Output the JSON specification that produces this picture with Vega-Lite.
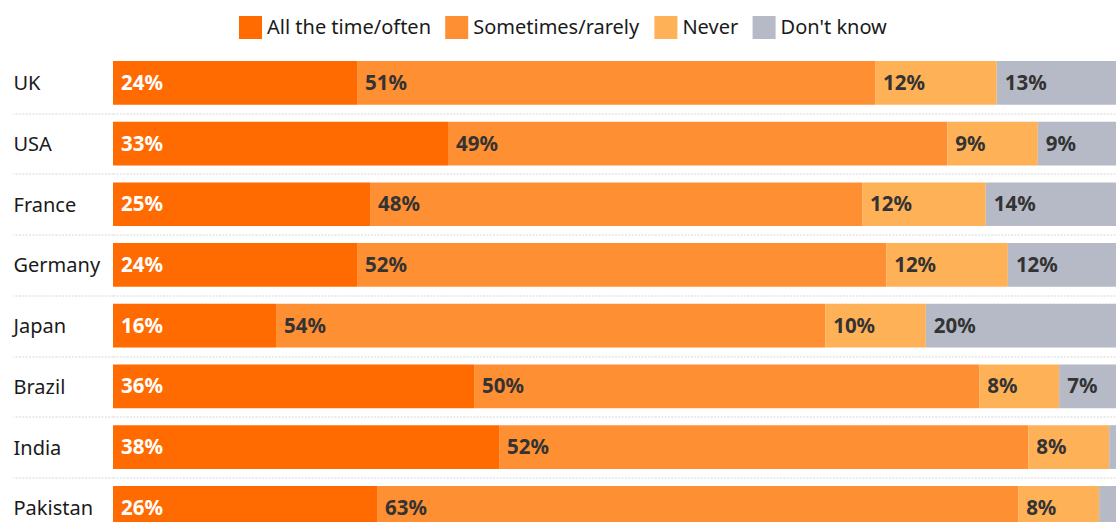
{
  "$schema": "https://vega.github.io/schema/vega-lite/v6.json",
  "width": 1003,
  "height": 470,
  "autosize": {"type": "none"},
  "padding": {"left": 113, "top": 52.5, "right": 0, "bottom": 0},
  "background": "#ffffff",
  "config": {
    "view": {"stroke": null},
    "font": "Noto Sans",
    "legend": {
      "orient": "none",
      "legendX": 126,
      "legendY": -36.5,
      "direction": "horizontal",
      "title": null,
      "symbolType": "square",
      "symbolSize": 529,
      "symbolStrokeWidth": 0,
      "symbolOpacity": 1,
      "labelFontSize": 20,
      "labelFont": "Noto Sans",
      "labelColor": "#1a1a1a",
      "labelOffset": 5,
      "columnPadding": 14.2,
      "padding": 0,
      "labelLimit": 0
    }
  },
  "data": {
    "values": [
      {"country": "UK", "category": "All the time/often", "k": 1, "value": 0.2404},
      {"country": "UK", "category": "Sometimes/rarely", "k": 2, "value": 0.5103},
      {"country": "UK", "category": "Never", "k": 3, "value": 0.1198},
      {"country": "UK", "category": "Don't know", "k": 4, "value": 0.1295},
      {"country": "USA", "category": "All the time/often", "k": 1, "value": 0.3300},
      {"country": "USA", "category": "Sometimes/rarely", "k": 2, "value": 0.4917},
      {"country": "USA", "category": "Never", "k": 3, "value": 0.0893},
      {"country": "USA", "category": "Don't know", "k": 4, "value": 0.0890},
      {"country": "France", "category": "All the time/often", "k": 1, "value": 0.2532},
      {"country": "France", "category": "Sometimes/rarely", "k": 2, "value": 0.4847},
      {"country": "France", "category": "Never", "k": 3, "value": 0.1218},
      {"country": "France", "category": "Don't know", "k": 4, "value": 0.1403},
      {"country": "Germany", "category": "All the time/often", "k": 1, "value": 0.2404},
      {"country": "Germany", "category": "Sometimes/rarely", "k": 2, "value": 0.5212},
      {"country": "Germany", "category": "Never", "k": 3, "value": 0.1199},
      {"country": "Germany", "category": "Don't know", "k": 4, "value": 0.1185},
      {"country": "Japan", "category": "All the time/often", "k": 1, "value": 0.1606},
      {"country": "Japan", "category": "Sometimes/rarely", "k": 2, "value": 0.5409},
      {"country": "Japan", "category": "Never", "k": 3, "value": 0.0992},
      {"country": "Japan", "category": "Don't know", "k": 4, "value": 0.1993},
      {"country": "Brazil", "category": "All the time/often", "k": 1, "value": 0.3557},
      {"country": "Brazil", "category": "Sometimes/rarely", "k": 2, "value": 0.4975},
      {"country": "Brazil", "category": "Never", "k": 3, "value": 0.0788},
      {"country": "Brazil", "category": "Don't know", "k": 4, "value": 0.0680},
      {"country": "India", "category": "All the time/often", "k": 1, "value": 0.3803},
      {"country": "India", "category": "Sometimes/rarely", "k": 2, "value": 0.5212},
      {"country": "India", "category": "Never", "k": 3, "value": 0.0798},
      {"country": "India", "category": "Don't know", "k": 4, "value": 0.0187},
      {"country": "Pakistan", "category": "All the time/often", "k": 1, "value": 0.2601},
      {"country": "Pakistan", "category": "Sometimes/rarely", "k": 2, "value": 0.6315},
      {"country": "Pakistan", "category": "Never", "k": 3, "value": 0.0798},
      {"country": "Pakistan", "category": "Don't know", "k": 4, "value": 0.0286}
    ]
  },
  "transform": [
    {"stack": "value", "groupby": ["country"], "sort": [{"field": "k", "order": "ascending"}], "as": ["x0", "x1"]}
  ],
  "encoding": {
    "y": {
      "field": "country",
      "type": "nominal",
      "sort": ["UK", "USA", "France", "Germany", "Japan", "Brazil", "India", "Pakistan"],
      "scale": {"range": [0, 485.6], "paddingInner": 0, "paddingOuter": 0},
      "axis": {
        "title": null,
        "domain": false,
        "tickBand": "extent",
        "ticks": true,
        "tickSize": 100,
        "tickColor": "#d6d6d6",
        "tickWidth": 1,
        "tickDash": [2, 1.3],
        "tickOpacity": {"condition": {"test": "datum.extra", "value": 0}, "value": 1},
        "grid": true,
        "gridColor": "#d6d6d6",
        "gridWidth": 1,
        "gridDash": [2, 1.3],
        "gridOpacity": {"condition": {"test": "datum.extra", "value": 0}, "value": 1},
        "labelAlign": "left",
        "labelBaseline": "middle",
        "labelPadding": 0,
        "labelOffset": 1,
        "labelFont": "Noto Sans",
        "labelFontSize": 20,
        "labelColor": "#1a1a1a",
        "labelLimit": 0
      }
    }
  },
  "layer": [
    {
      "mark": {"type": "bar", "height": {"band": 0.72}, "clip": true},
      "encoding": {
        "x": {"field": "x0", "type": "quantitative", "scale": {"domain": [0, 0.988], "nice": false, "zero": true}, "axis": null},
        "x2": {"field": "x1"},
        "color": {
          "field": "category",
          "type": "nominal",
          "scale": {
            "domain": ["All the time/often", "Sometimes/rarely", "Never", "Don't know"],
            "range": ["#ff6b00", "#ff8f33", "#ffb157", "#b5bac6"]
          },
          "legend": {}
        }
      }
    },
    {
      "transform": [{"filter": "datum.value >= 0.04"}],
      "mark": {"type": "text", "align": "left", "baseline": "middle", "dx": 8, "dy": 1, "fontSize": 20.5, "fontWeight": "bold", "font": "Noto Sans"},
      "encoding": {
        "x": {"field": "x0", "type": "quantitative"},
        "text": {"field": "value", "type": "quantitative", "format": ".0%"},
        "color": {"condition": {"test": "datum.category === 'All the time/often'", "value": "#ffffff"}, "value": "#333333"}
      }
    }
  ]
}
